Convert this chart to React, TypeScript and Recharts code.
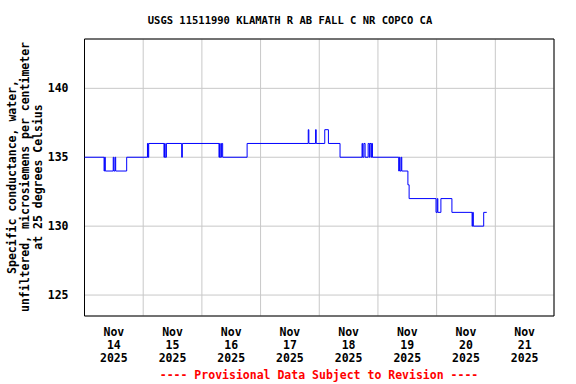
import React from 'react';
import {
  LineChart,
  Line,
  XAxis,
  YAxis,
  CartesianGrid,
  ReferenceArea,
} from 'recharts';

// change points of the 15-minute record, hours after Nov 14 00:00
const HOURS = [
  0, 8, 8.25, 8.5, 11.75, 12, 12.5, 12.75, 17.25,
  25.75, 26, 26.25, 32.5, 32.75, 33, 33.5, 39.75, 40,
  55, 55.25, 55.5, 56, 56.5, 66.5,
  91.5, 91.75, 94.5, 94.75, 98.25, 99.75, 104.5,
  113.5, 113.75, 114.25, 114.75, 116, 116.5, 116.75, 117.25, 117.5, 117.75,
  128.5, 128.75, 129, 129.5, 129.75, 132.25, 132.75,
  143.75, 144.25, 144.5, 145.75, 150.25,
  158.5, 158.75, 159, 163.25, 164.5,
];
const CONDUCTANCE = [
  135, 134, 135, 134, 135, 134, 135, 134, 135,
  136, 135, 136, 135, 136, 135, 136, 135, 136,
  135, 136, 135, 136, 135, 136,
  137, 136, 137, 136, 137, 136, 135,
  136, 135, 136, 135, 136, 135, 136, 135, 136, 135,
  134, 135, 134, 135, 134, 133, 132,
  131, 132, 131, 132, 131,
  130, 131, 130, 131, 131,
];
const DAY_LABELS = ['14', '15', '16', '17', '18', '19', '20', '21'];
const LABEL_TICKS = [12, 36, 60, 84, 108, 132, 156, 180];
const DAY_LINES = [24, 48, 72, 96, 120, 144, 168];
const Y_TICKS = [125, 130, 135, 140];

const data = HOURS.map((t, i) => ({ t, v: CONDUCTANCE[i] }));

const FONT = '"DejaVu Sans Mono", monospace';

const DayTick = (props: any) => {
  const { x, y, payload } = props;
  const idx = LABEL_TICKS.indexOf(payload.value);
  return (
    <text x={x} y={y} textAnchor="middle" fontFamily={FONT} fontWeight="bold" fontSize={11.5} fill="#000">
      <tspan x={x} dy={18}>Nov</tspan>
      <tspan x={x} dy={13}>{DAY_LABELS[idx]}</tspan>
      <tspan x={x} dy={13}>2025</tspan>
    </text>
  );
};

export default function App() {
  return (
    <div style={{ position: 'absolute', left: 0, top: 0, width: 576, height: 384, background: '#fff' }}>
      <div
        style={{
          position: 'absolute', left: 290, top: 20, transform: 'translate(-50%, -50%)',
          fontFamily: FONT, fontWeight: 'bold', fontSize: 10.5, whiteSpace: 'nowrap',
        }}
      >
        USGS 11511990 KLAMATH R AB FALL C NR COPCO CA
      </div>
      <div
        style={{
          position: 'absolute', left: 25, top: 177, transform: 'translate(-50%, -50%) rotate(-90deg)',
          fontFamily: FONT, fontWeight: 'bold', fontSize: 11.5, lineHeight: '13px',
          whiteSpace: 'nowrap', textAlign: 'center',
        }}
      >
        Specific conductance, water,<br />
        unfiltered, microsiemens per centimeter<br />
        at 25 degrees Celsius
      </div>
      <LineChart
        width={576}
        height={384}
        data={data}
        margin={{ top: 39, right: 22, left: 0, bottom: 0 }}
      >
        <XAxis
          xAxisId="lab"
          dataKey="t"
          type="number"
          domain={[0, 192]}
          ticks={LABEL_TICKS}
          tick={<DayTick />}
          axisLine={false}
          tickLine={false}
          tickSize={0}
          height={68}
          interval={0}
        />
        <XAxis xAxisId="grid" dataKey="t" type="number" domain={[0, 192]} ticks={DAY_LINES} height={0} hide />
        <YAxis
          type="number"
          domain={[123.48, 143.58]}
          ticks={Y_TICKS}
          width={84.5}
          axisLine={false}
          tickLine={false}
          tickSize={0}
          tickMargin={16}
          allowDataOverflow
          tick={{ fontFamily: FONT, fontWeight: 'bold', fontSize: 11.5, fill: '#000' }}
        />
        <CartesianGrid xAxisId="grid" stroke="#c8c8c8" strokeWidth={1} />
        <Line
          xAxisId="lab"
          type="stepAfter"
          dataKey="v"
          stroke="#0000ff"
          strokeWidth={1}
          dot={false}
          isAnimationActive={false}
        />
        <ReferenceArea
          xAxisId="lab"
          x1={0}
          x2={192}
          y1={123.48}
          y2={143.58}
          fill="none"
          stroke="#000"
          strokeWidth={1}
          ifOverflow="visible"
        />
      </LineChart>
      <div
        style={{
          position: 'absolute', left: 319, top: 375, transform: 'translate(-50%, -50%)',
          fontFamily: FONT, fontWeight: 'bold', fontSize: 11.5, color: '#ff0000', whiteSpace: 'nowrap',
        }}
      >
        ---- Provisional Data Subject to Revision ----
      </div>
    </div>
  );
}
